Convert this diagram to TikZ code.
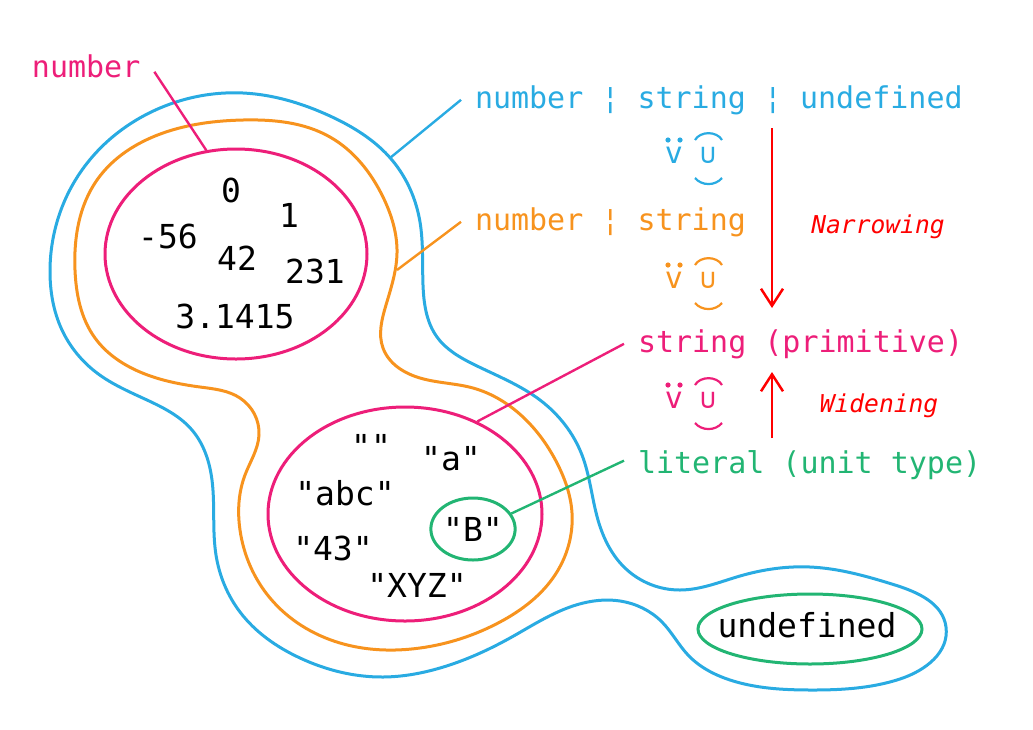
\documentclass[tikz,border=0pt]{standalone}
\usepackage{fontspec}
\setmonofont{DejaVu Sans Mono}
\usetikzlibrary{arrows.meta, shapes.geometric, hobby}

\definecolor{tblue}{HTML}{29ABE2}
\definecolor{torange}{HTML}{F7931E}
\definecolor{tpink}{HTML}{ED1E79}
\definecolor{tgreen}{HTML}{22B573}

\begin{document}
\begin{tikzpicture}[x=0.5pt, y=-0.5pt, >={Straight Barb[length=8.5pt, width=11pt]},
    blob/.style={line width=1.5pt},
    conn/.style={line width=1.2pt},
    setring/.style={ellipse, line width=1.5pt, inner sep=0pt},
    lbl/.style={font=\ttfamily\fontsize{15}{18}\selectfont, anchor=base west, inner xsep=7pt, inner ysep=2pt, outer sep=0pt},
    valtxt/.style={font=\ttfamily\fontsize{16.5}{19}\selectfont, anchor=base, inner sep=0pt},
    symtxt/.style={font=\ttfamily\fontsize{15}{18}\selectfont, inner sep=0pt}]

    \useasboundingbox (0,0) rectangle (1033,729);

    % Outer set: number | string | undefined
    \draw[blob, tblue] plot[closed hobby] coordinates {
        (50,272) (82,170) (160,108) (243,93) (330,116) (392,160) (420,222)
        (423,285) (437,337) (475,365) (540,400) (582,455) (598,520) (625,568)
        (680,590) (740,576) (810,567) (895,585) (946,627) (900,679) (810,690)
        (730,680) (688,655) (662,622) (620,601) (570,607) (510,638) (440,668)
        (383,677) (300,658) (240,612) (216,555) (212,480) (192,430) (147,400)
        (97,373) (62,330)};

    % Middle set: number | string
    \draw[blob, torange] plot[closed hobby] coordinates {
        (75,270) (97,180) (163,133) (243,120) (330,137) (383,197) (397,253)
        (386,305) (383,348) (420,378) (473,388) (523,417) (557,463) (572,513)
        (555,575) (500,622) (420,648) (340,643) (270,598) (240,530) (245,475)
        (259,435) (240,398) (200,387) (140,372) (95,338)};

    % Inner sets
    \node[setring, draw=tpink, minimum width=131pt, minimum height=105pt] (nums) at (236,254) {};
    \node[setring, draw=tpink, minimum width=137pt, minimum height=107pt] (strs) at (405,514) {};
    \node[setring, draw=tgreen, minimum width=40pt, minimum height=31pt, font=\ttfamily\fontsize{16.5}{19}\selectfont] (litB) at (473,529) {"B"};
    \node[setring, draw=tgreen, minimum width=112pt, minimum height=35pt] (undef) at (810,629) {};

    % Values
    \node[valtxt] (n0) at (231,202) {0};
    \node[valtxt] (n1) at (289,227) {1};
    \node[valtxt] (n56) at (168,248) {-56};
    \node[valtxt] (n42) at (237,270) {42};
    \node[valtxt] (n231) at (315,283) {231};
    \node[valtxt] (npi) at (235,328) {3.1415};

    \node[valtxt] (sempty) at (371,458) {""};
    \node[valtxt] (sa) at (451,470) {"a"};
    \node[valtxt] (sabc) at (345,505) {"abc"};
    \node[valtxt] (s43) at (333,560) {"43"};
    \node[valtxt] (sxyz) at (417,597) {"XYZ"};

    \node[valtxt] (undeftxt) at (807,637) {undefined};

    % Labels
    \node[lbl, text=tpink] (lblnum) at (18,77) {number};
    \node[lbl, text=tblue] (lblall) at (461,108) {number ¦ string ¦ undefined};
    \node[lbl, text=torange] (lblns) at (461,230) {number ¦ string};
    \node[lbl, text=tpink] (lblstr) at (624,352) {string (primitive)};
    \node[lbl, text=tgreen] (lbllit) at (624,473) {literal (unit type)};

    \coordinate (bluetip) at (390,158);
    \coordinate (orangetip) at (397,270);

    \draw[conn, tpink] ([yshift=-3pt]lblnum.east) -- (nums.106);
    \draw[conn, tblue] (lblall.west) -- (bluetip);
    \draw[conn, torange] (lblns.west) -- (orangetip);
    \draw[conn, tpink] (lblstr.west) -- (strs.52);
    \draw[conn, tgreen] ([yshift=2pt]lbllit.west) -- (litB.22);

    % Subset marks
    \foreach \c/\yc in {tblue/155, torange/280, tpink/400} {
        \node[symtxt, text=\c] (nose-\c) at (674,\yc) {v};
        \node[symtxt, text=\c, font=\ttfamily\fontsize{14}{16}\selectfont] (cup-\c) at (708,\yc) {∪};
        \fill[\c] (668,{\yc-15}) circle (1.3pt);
        \fill[\c] (680,{\yc-15}) circle (1.3pt);
        \draw[\c, line width=1.1pt] (695,{\yc-15}) to[bend left=60] (722,{\yc-15});
        \draw[\c, line width=1.1pt] (695,{\yc+23}) to[bend right=50] (722,{\yc+23});
    }

    % Narrowing / widening
    \coordinate (nar1) at (772,128);
    \coordinate (nar2) at (772,308);
    \coordinate (wid1) at (772,438);
    \coordinate (wid2) at (772,372);
    \draw[->, line width=1.25pt, red] (nar1) -- (nar2);
    \draw[->, line width=1.25pt, red] (wid1) -- (wid2);

    \node[red, font=\ttfamily\itshape\fontsize{12.3}{15}\selectfont, anchor=base] (narrow) at (878,233) {Narrowing};
    \node[red, font=\ttfamily\itshape\fontsize{12.3}{15}\selectfont, anchor=base] (widen) at (879,412) {Widening};

\end{tikzpicture}
\end{document}
